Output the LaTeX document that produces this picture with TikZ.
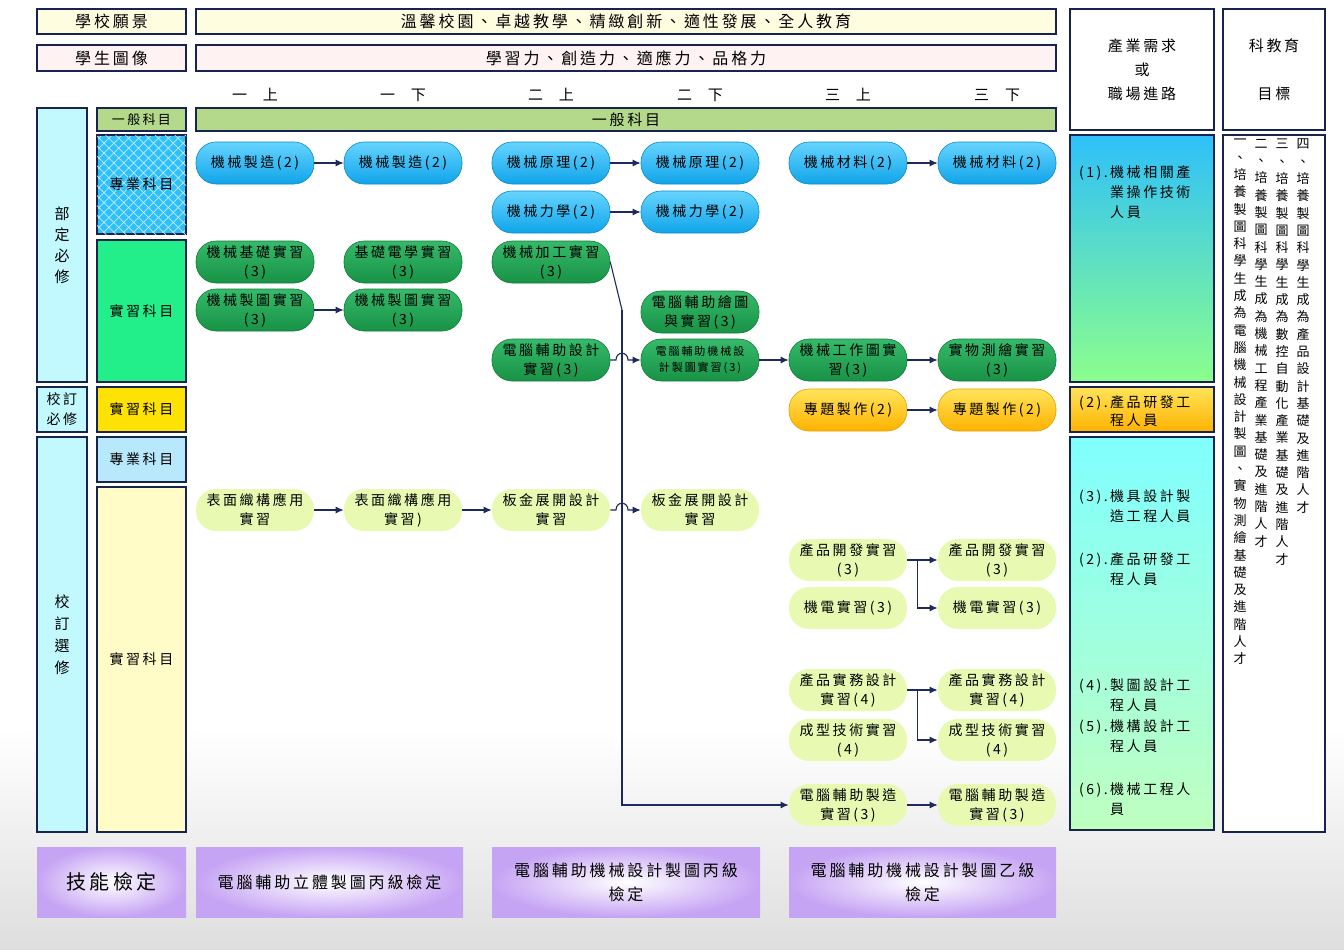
\documentclass[tikz,border=0pt]{standalone}
\usepackage{fontspec}
\setmainfont{Noto Sans CJK TC}[LetterSpace=18]
\usetikzlibrary{arrows.meta,patterns.meta,calc}

\definecolor{navy}{HTML}{1E2A5C}
\definecolor{skyA}{HTML}{66D4FF}
\definecolor{skyB}{HTML}{10A4EA}
\definecolor{grnA}{HTML}{36BA6A}
\definecolor{grnB}{HTML}{189246}
\definecolor{goldA}{HTML}{FFE45A}
\definecolor{goldB}{HTML}{FFB200}
\definecolor{pale}{HTML}{E8FAB2}
\definecolor{cyanbox}{HTML}{C2F9FF}
\definecolor{olive}{HTML}{B4D98A}
\definecolor{profblue}{HTML}{2EC0FA}
\definecolor{pracgreen}{HTML}{22EE8A}
\definecolor{lav}{HTML}{C6A4F4}

% vertical text, one character under the other
\newcommand\vcol[1]{\vbox{\baselineskip=17.3pt\lineskiplimit=-20pt\vcolstep#1\relax}}
\def\vcolstep#1{\ifx\relax#1\else\hbox to 14pt{\hss#1\hss}\expandafter\vcolstep\fi}
\newcommand\jobitem[2]{#1\,\begin{tabular}[t]{@{}l@{}}#2\end{tabular}}

\tikzset{
  frame/.style={draw=navy!85!black, line width=1.1pt, inner sep=0pt, outer sep=0pt, align=center},
  course/.style={rounded corners=20pt, minimum width=118pt, minimum height=42pt, inner sep=0pt,
    align=center, font=\fontsize{14}{19}\selectfont, line width=0.6pt},
  blueC/.style={course, top color=skyA, bottom color=skyB, draw=skyB!85!black},
  greenC/.style={course, top color=grnA, bottom color=grnB, draw=grnB!85!black},
  goldC/.style={course, top color=goldA, bottom color=goldB, draw=goldB!90!black},
  paleC/.style={course, fill=pale},
  checkbox/.style={inner sep=0pt, inner color=white, outer color=lav, align=center,
    font=\fontsize{16}{24}\selectfont},
  term/.style={font=\fontsize{15}{18}\selectfont},
  conn/.style={draw=navy, line width=1.1pt, -{Latex[length=8pt,width=7pt]}},
  hatch/.style={pattern={Lines[angle=#1,distance=7pt,line width=.7pt]}, pattern color=white!70!profblue},
}

\begin{document}
\begin{tikzpicture}[x=1pt,y=-1pt]
	\useasboundingbox (0,0) rectangle (1344,950);
	\fill[white] (0,0) rectangle (1344,730);
	\shade[top color=white, bottom color=black!13] (0,730) rectangle (1344,950);

	\path
	coordinate (drop) at (622,310)
	;

	% heading rows
	\node[frame, fill=yellow!12, minimum width=149pt, minimum height=25pt, font=\fontsize{16}{18}\selectfont] (vislab) at (111.5,21.5) {學校願景};
	\node[frame, fill=yellow!12, minimum width=860pt, minimum height=25pt, font=\fontsize{16}{18}\selectfont] (vis) at (626,21.5) {溫馨校園、卓越教學、精緻創新、適性發展、全人教育};
	\node[frame, fill=red!5, minimum width=149pt, minimum height=26pt, font=\fontsize{16}{18}\selectfont] (stulab) at (111.5,58) {學生圖像};
	\node[frame, fill=red!5, minimum width=860pt, minimum height=26pt, font=\fontsize{16}{18}\selectfont] (stu) at (626,58) {學習力、創造力、適應力、品格力};
	\node[frame, fill=white, minimum width=144pt, minimum height=121pt, font=\fontsize{15}{24}\selectfont] (need) at (1142,69.5) {產業需求\\或\\職場進路};
	\node[frame, fill=white, minimum width=102pt, minimum height=121pt, font=\fontsize{15}{24}\selectfont] (aimhead) at (1274,69.5) {科教育\\\mbox{}\\目標};

	% semesters
	\node[term] (s1) at (255,95) {一\hspace{16pt}上};
	\node[term] (s2) at (403,95) {一\hspace{16pt}下};
	\node[term] (s3) at (551,95) {二\hspace{16pt}上};
	\node[term] (s4) at (700,95) {二\hspace{16pt}下};
	\node[term] (s5) at (848,95) {三\hspace{16pt}上};
	\node[term] (s6) at (997,95) {三\hspace{16pt}下};

	% left columns
	\node[frame, fill=cyanbox, minimum width=50pt, minimum height=274pt, font=\fontsize{15}{21}\selectfont] (bd) at (62,245) {部\\定\\必\\修};
	\node[frame, fill=olive, minimum width=89pt, minimum height=23pt, font=\fontsize{13}{16}\selectfont] (genlab) at (141.5,119.5) {一般科目};
	\node[frame, fill=olive, minimum width=860pt, minimum height=23pt, font=\fontsize{15}{18}\selectfont] (gen) at (626,119.5) {一般科目};
	\node[frame, preaction={fill=profblue}, hatch=45, postaction={hatch=-45}, minimum width=89pt, minimum height=99pt, font=\fontsize{14}{18}\selectfont] (prof1) at (141.5,184.5) {專業科目};
	\node[frame, fill=pracgreen, minimum width=89pt, minimum height=142pt, font=\fontsize{14}{18}\selectfont] (prac1) at (141.5,311) {實習科目};
	\node[frame, fill=cyanbox, minimum width=50pt, minimum height=45pt, font=\fontsize{14}{20}\selectfont] (xb) at (62,409.5) {校訂\\必修};
	\node[frame, fill=yellow!85!orange, minimum width=89pt, minimum height=45pt, font=\fontsize{14}{18}\selectfont] (prac2) at (141.5,409.5) {實習科目};
	\node[frame, fill=cyanbox, minimum width=50pt, minimum height=395pt, font=\fontsize{15}{22}\selectfont] (xx) at (62,634.5) {校\\訂\\選\\修};
	\node[frame, fill=cyan!28, minimum width=89pt, minimum height=45pt, font=\fontsize{14}{18}\selectfont] (prof2) at (141.5,459.5) {專業科目};
	\node[frame, fill=yellow!22, minimum width=89pt, minimum height=345pt, font=\fontsize{14}{18}\selectfont] (prac3) at (141.5,659.5) {實習科目};

	% right columns
	\node[frame, top color=profblue, middle color=green!45!cyan!55, bottom color=green!45, minimum width=144pt, minimum height=247pt] (job1) at (1142,258.5) {};
	\node[frame, top color=goldA, bottom color=goldB, minimum width=144pt, minimum height=45pt] (job2) at (1142,409.5) {};
	\node[frame, top color=cyan!50, middle color=cyan!45, bottom color=green!25, minimum width=144pt, minimum height=393pt] (job3) at (1142,633.5) {};
	\node[frame, fill=white, minimum width=102pt, minimum height=697pt] (aim) at (1274,483.5) {};

	\begin{scope}[every node/.style={anchor=north west, inner sep=0pt, font=\fontsize{14}{20}\selectfont}]
		\node (j1) at (1079,163) {\jobitem{(1).}{機械相關產\\業操作技術\\人員}};
		\node[font=\fontsize{14}{18}\selectfont] (j2) at (1079,395) {\jobitem{(2).}{產品研發工\\程人員}};
		\node (j3) at (1079,487) {\jobitem{(3).}{機具設計製\\造工程人員}};
		\node (j4) at (1079,550) {\jobitem{(2).}{產品研發工\\程人員}};
		\node (j5) at (1079,676) {\jobitem{(4).}{製圖設計工\\程人員}};
		\node (j6) at (1079,717) {\jobitem{(5).}{機構設計工\\程人員}};
		\node (j7) at (1079,780) {\jobitem{(6).}{機械工程人\\員}};
	\end{scope}

	\begin{scope}[every node/.style={anchor=north, inner sep=0pt, font=\fontsize{13}{17}\selectfont}]
		\node (aimA) at (1240,139) {\vcol{一、培養製圖科學生成為電腦機械設計製圖、實物測繪基礎及進階人才}};
		\node (aimB) at (1261,139) {\vcol{二、培養製圖科學生成為機械工程產業基礎及進階人才}};
		\node (aimC) at (1282,139) {\vcol{三、培養製圖科學生成為數控自動化產業基礎及進階人才}};
		\node (aimD) at (1303,139) {\vcol{四、培養製圖科學生成為產品設計基礎及進階人才}};
	\end{scope}

	% required courses
	\node[blueC] (mz1) at (255,163) {機械製造(2)};
	\node[blueC] (mz2) at (403,163) {機械製造(2)};
	\node[blueC] (yl1) at (551,163) {機械原理(2)};
	\node[blueC] (yl2) at (700,163) {機械原理(2)};
	\node[blueC] (cl1) at (848,163) {機械材料(2)};
	\node[blueC] (cl2) at (997,163) {機械材料(2)};
	\node[blueC] (lx1) at (551,212) {機械力學(2)};
	\node[blueC] (lx2) at (700,212) {機械力學(2)};

	\node[greenC] (jc) at (255,262) {機械基礎實習\\(3)};
	\node[greenC] (dx) at (403,262) {基礎電學實習\\(3)};
	\node[greenC] (jg) at (551,262) {機械加工實習\\(3)};
	\node[greenC] (zt1) at (255,310) {機械製圖實習\\(3)};
	\node[greenC] (zt2) at (403,310) {機械製圖實習\\(3)};
	\node[greenC] (hz) at (700,312) {電腦輔助繪圖\\與實習(3)};
	\node[greenC] (sj) at (551,360) {電腦輔助設計\\實習(3)};
	\node[greenC, font=\fontsize{11}{16}\selectfont] (jx) at (700,360) {電腦輔助機械設\\計製圖實習(3)};
	\node[greenC] (gz) at (848,360) {機械工作圖實\\習(3)};
	\node[greenC] (sw) at (997,360) {實物測繪實習\\(3)};

	\node[goldC] (pj1) at (848,410) {專題製作(2)};
	\node[goldC] (pj2) at (997,410) {專題製作(2)};

	% elective courses
	\node[paleC] (bm1) at (255,510) {表面織構應用\\實習};
	\node[paleC] (bm2) at (403,510) {表面織構應用\\實習)};
	\node[paleC] (bj1) at (551,510) {板金展開設計\\實習};
	\node[paleC] (bj2) at (700,510) {板金展開設計\\實習};
	\node[paleC] (kf1) at (848,560) {產品開發實習\\(3)};
	\node[paleC] (kf2) at (997,560) {產品開發實習\\(3)};
	\node[paleC] (jd1) at (848,608) {機電實習(3)};
	\node[paleC] (jd2) at (997,608) {機電實習(3)};
	\node[paleC] (cp1) at (848,690) {產品實務設計\\實習(4)};
	\node[paleC] (cp2) at (997,690) {產品實務設計\\實習(4)};
	\node[paleC] (cx1) at (848,740) {成型技術實習\\(4)};
	\node[paleC] (cx2) at (997,740) {成型技術實習\\(4)};
	\node[paleC] (cam1) at (848,805) {電腦輔助製造\\實習(3)};
	\node[paleC] (cam2) at (997,805) {電腦輔助製造\\實習(3)};

	% certificates
	\node[checkbox, minimum width=149pt, minimum height=70pt, font=\fontsize{20}{24}\selectfont] (sk) at (111.5,882) {技能檢定};
	\node[checkbox, minimum width=267pt, minimum height=70pt] (ck1) at (329.5,882) {電腦輔助立體製圖丙級檢定};
	\node[checkbox, minimum width=268pt, minimum height=70pt] (ck2) at (626,882) {電腦輔助機械設計製圖丙級\\檢定};
	\node[checkbox, minimum width=267pt, minimum height=70pt] (ck3) at (922.5,882) {電腦輔助機械設計製圖乙級\\檢定};

	% connectors
	\draw[conn] (mz1) -- (mz2);
	\draw[conn] (yl1) -- (yl2);
	\draw[conn] (cl1) -- (cl2);
	\draw[conn] (lx1) -- (lx2);
	\draw[conn] (zt1) -- (zt2);
	\draw[conn] (jx) -- (gz);
	\draw[conn] (gz) -- (sw);
	\draw[conn] (pj1) -- (pj2);
	\draw[conn] (bm1) -- (bm2);
	\draw[conn] (bm2) -- (bj1);
	\draw[conn] (cam1) -- (cam2);
	\draw[conn, -] (jg.east) -- (drop);
	\draw[conn] (drop) |- (cam1.west);
	\draw[conn] (sj.east) -- ([xshift=-6pt]sj.east -| drop)
		.. controls +(0,-9) and +(0,-9) .. ([xshift=6pt]sj.east -| drop) -- (jx.west);
	\draw[conn] (bj1.east) -- ([xshift=-6pt]bj1.east -| drop)
		.. controls +(0,-9) and +(0,-9) .. ([xshift=6pt]bj1.east -| drop) -- (bj2.west);

	\coordinate (kfj) at ([xshift=10pt]kf1.east);
	\draw[conn] (kf1.east) -- (kfj) -- (kf2.west);
	\draw[conn] (kfj) |- (jd2.west);
	\coordinate (cpj) at ([xshift=10pt]cp1.east);
	\draw[conn] (cp1.east) -- (cpj) -- (cp2.west);
	\draw[conn] (cpj) |- (cx2.west);

\end{tikzpicture}
\end{document}
